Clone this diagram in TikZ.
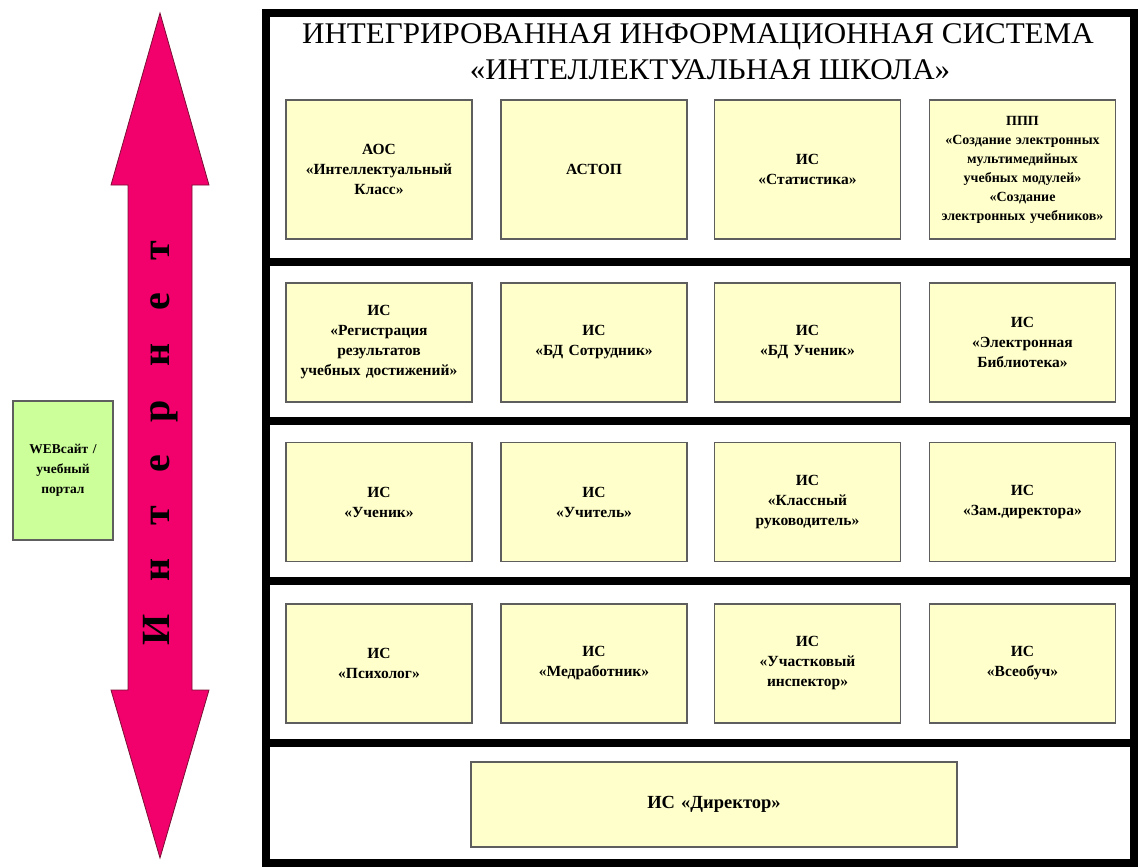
\documentclass[tikz,border=0pt]{standalone}
\usepackage{fontspec}
\setmainfont{Liberation Serif}
\definecolor{pinkarrow}{HTML}{F2006B}
\definecolor{arrowedge}{HTML}{7A1035}
\definecolor{boxfill}{HTML}{FFFFCC}
\definecolor{boxedge}{HTML}{5E5E5E}
\definecolor{greenfill}{HTML}{CCFF99}
\begin{document}
\begin{tikzpicture}[x=1pt,y=-1pt,
  sysbox/.style={draw=boxedge, fill=boxfill, line width=1.4pt, minimum width=186pt,
    align=center, inner sep=2pt, text width=182pt,
    font=\bfseries\fontsize{15.5}{20}\selectfont},
  rowa/.style={sysbox, minimum height=139pt},
  rowb/.style={sysbox, minimum height=119pt},
  frameline/.style={line width=8pt, black},
  titletext/.style={font=\fontsize{30}{36}\selectfont, anchor=base, inner sep=0pt},
]
\useasboundingbox (0,0) rectangle (1138,867);

% outer frame and section separators
\draw[frameline] (266,13) rectangle (1134,863);
\foreach \yy in {262,421,581,743} \draw[frameline] (266,\yy) -- (1134,\yy);

% title
\node[titletext] (title1) at (698,44) {\scalebox{1.035}[1]{ИНТЕГРИРОВАННАЯ ИНФОРМАЦИОННАЯ СИСТЕМА}};
\node[titletext] (title2) at (710,79) {\scalebox{1.035}[1]{«ИНТЕЛЛЕКТУАЛЬНАЯ ШКОЛА»}};

% row 1
\node[rowa] (aos)   at (379,169.5)   {АОС\\«Интеллектуальный\\Класс»};
\node[rowa] (astop) at (594,169.5)   {АСТОП};
\node[rowa] (stat)  at (807.5,169.5) {ИС\\«Статистика»};
\node[rowa, font=\bfseries\fontsize{14}{19}\selectfont] (ppp) at (1022.5,169.5)
  {ППП\\«Создание электронных\\мультимедийных\\учебных модулей»\\«Создание\\электронных учебников»};

% row 2
\node[rowb] (reg)   at (379,342.5)   {ИС\\«Регистрация\\результатов\\учебных достижений»};
\node[rowb] (bdsot) at (594,342.5)   {ИС\\«БД Сотрудник»};
\node[rowb] (bduch) at (807.5,342.5) {ИС\\«БД Ученик»};
\node[rowb] (lib)   at (1022.5,342.5) {ИС\\«Электронная\\Библиотека»};

% row 3
\node[rowb] (uchenik) at (379,502)    {ИС\\«Ученик»};
\node[rowb] (uchitel) at (594,502)    {ИС\\«Учитель»};
\node[rowb] (klruk)   at (807.5,502)  {ИС\\«Классный\\руководитель»};
\node[rowb] (zamdir)  at (1022.5,502) {ИС\\«Зам.директора»};

% row 4
\node[rowb] (psych) at (379,663.5)    {ИС\\«Психолог»};
\node[rowb] (med)   at (594,663.5)    {ИС\\«Медработник»};
\node[rowb] (insp)  at (807.5,663.5)  {ИС\\«Участковый\\инспектор»};
\node[rowb] (vseob) at (1022.5,663.5) {ИС\\«Всеобуч»};

% row 5
\node[sysbox, minimum width=486pt, minimum height=85pt, text width=470pt,
  font=\bfseries\fontsize{18.5}{22}\selectfont] (dir) at (714,804.5) {ИС «Директор»};

% internet arrow
\draw[fill=pinkarrow, draw=arrowedge, line width=0.8pt, line join=miter]
  (160,13) -- (209,185) -- (192,185) -- (192,690) -- (209,690) -- (160,858)
  -- (111,690) -- (128,690) -- (128,185) -- (111,185) -- cycle;
\node[rotate=90, font=\bfseries\fontsize{40}{40}\selectfont, inner sep=0pt] (inet) at (161,443)
  {И\kern33pt н\kern33pt т\kern33pt е\kern33pt р\kern33pt н\kern33pt е\kern33pt т};

% web portal
\node[draw=boxedge, fill=greenfill, line width=1.4pt, minimum width=98pt, minimum height=139pt,
  align=center, inner sep=2pt, text width=96pt,
  font=\bfseries\fontsize{13.5}{20}\selectfont] (web) at (63,470.5) {WEBсайт /\\учебный\\портал};
\end{tikzpicture}
\end{document}
